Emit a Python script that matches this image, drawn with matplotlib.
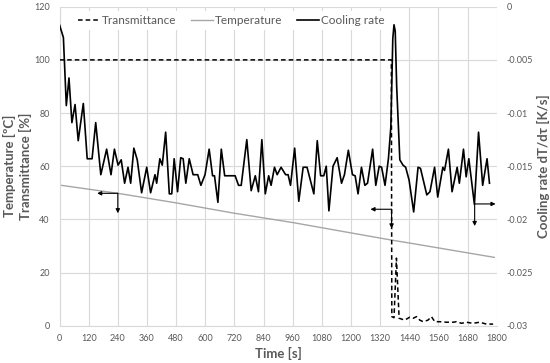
import matplotlib
matplotlib.use("Agg")
import matplotlib.pyplot as plt
from matplotlib.lines import Line2D

plt.rcParams['font.family'] = ['Lato', 'DejaVu Sans']
plt.rcParams['axes.unicode_minus'] = False

# Time axis ticks
time_ticks = list(range(0, 1801, 120))

# Transmittance [%]
trans_t = [0, 1366, 1368, 1377, 1387, 1398, 1421, 1442, 1456, 1470, 1483, 1497, 1517,
           1531, 1545, 1565, 1593, 1620, 1634, 1655, 1675, 1702, 1730, 1757, 1785]
trans_v = [100, 100, 3.4, 3.0, 25.4, 2.8, 2.1, 3.2, 2.8, 3.4, 2.1, 1.5, 2.1,
           3.4, 1.5, 1.5, 1.3, 1.3, 1.5, 0.9, 1.3, 0.9, 1.3, 0.6, 0.6]

# Temperature [ºC]
temp_t = [0, 240, 480, 720, 960, 1200, 1367, 1440, 1680, 1790]
temp_v = [52.9, 49.8, 46.2, 42.3, 38.8, 34.9, 32.2, 31.1, 27.4, 25.7]

# Cooling rate dT/dτ [K/s]
cool_t = [0, 16, 28, 39, 51, 64, 77, 98, 114, 134, 149, 170, 194, 212, 226, 241,
          254, 268, 282, 293, 306, 320, 338, 359, 375, 393, 400, 413, 423, 437,
          452, 462, 472, 486, 499, 509, 520, 534, 550, 569, 582, 599, 616, 630,
          638, 652, 666, 680, 723, 737, 748, 771, 789, 806, 819, 833, 847, 861,
          871, 885, 896, 912, 931, 941, 951, 968, 985, 1003, 1019, 1047, 1061,
          1075, 1088, 1098, 1109, 1126, 1143, 1161, 1173, 1189, 1206, 1217, 1229,
          1243, 1257, 1268, 1289, 1302, 1316, 1326, 1340, 1354, 1364, 1372, 1377,
          1382, 1388, 1401, 1414, 1425, 1439, 1458, 1476, 1486, 1512, 1525, 1544,
          1557, 1578, 1585, 1601, 1616, 1637, 1646, 1663, 1674, 1685, 1708, 1725,
          1742, 1760, 1770]
cool_v = [-0.0017, -0.0029, -0.0093, -0.0067, -0.0109, -0.0092, -0.0126, -0.0091,
          -0.0143, -0.0143, -0.0109, -0.0158, -0.0134, -0.0158, -0.0134, -0.0149,
          -0.0144, -0.0166, -0.0151, -0.0166, -0.0133, -0.0144, -0.0175, -0.0151,
          -0.0175, -0.0158, -0.0166, -0.0143, -0.0149, -0.0118, -0.0176, -0.0176,
          -0.0143, -0.0174, -0.0142, -0.0143, -0.0166, -0.0143, -0.0158, -0.0158,
          -0.0168, -0.0158, -0.0134, -0.0159, -0.0159, -0.0184, -0.0134, -0.0159,
          -0.0159, -0.0168, -0.0168, -0.0125, -0.0173, -0.0159, -0.0174, -0.0125,
          -0.0176, -0.0159, -0.0168, -0.0151, -0.0158, -0.0151, -0.0158, -0.0158,
          -0.0168, -0.0133, -0.0183, -0.0151, -0.0151, -0.0176, -0.0126, -0.0159,
          -0.0159, -0.0150, -0.0192, -0.0150, -0.0142, -0.0166, -0.0158, -0.0135,
          -0.0158, -0.0159, -0.0176, -0.0151, -0.0168, -0.0166, -0.0134, -0.0168,
          -0.0150, -0.0151, -0.0168, -0.0143, -0.0113, -0.0030, -0.0017, -0.0023,
          -0.0075, -0.0144, -0.0149, -0.0151, -0.0163, -0.0193, -0.0151, -0.0152,
          -0.0177, -0.0174, -0.0151, -0.0179, -0.0151, -0.0154, -0.0134, -0.0174,
          -0.0151, -0.0166, -0.0134, -0.0160, -0.0143, -0.0186, -0.0118, -0.0168,
          -0.0143, -0.0166]

left_ticks = [0, 20, 40, 60, 80, 100, 120]
right_ticks = [-0.03, -0.025, -0.02, -0.015, -0.01, -0.005, 0]
right_labels = ['-0.03', '-0.025', '-0.02', '-0.015', '-0.01', '-0.005', '0']

grid_c = '#d9d9d9'
text_c = '#595959'

fig = plt.figure(figsize=(5.5, 3.63), dpi=100)
ax = fig.add_axes([0.1082, 0.1028, 0.795, 0.8787])
ax2 = ax.twinx()

ax.plot(temp_t, temp_v, color='#a6a6a6', lw=1.0, zorder=2)
ax.plot(trans_t, trans_v, color='black', lw=1.1, dashes=(3, 2), zorder=3)
ax2.plot(cool_t, cool_v, color='black', lw=1.2, zorder=3, solid_joinstyle='round')

ax.set_xlim(0, 1800)
ax.set_ylim(0, 120)
ax2.set_ylim(-0.03, 0)
ax.set_xticks(time_ticks)
ax.set_yticks(left_ticks)
ax2.set_yticks(right_ticks)
ax2.set_yticklabels(right_labels)

ax.grid(True, color=grid_c, lw=0.8)
ax.set_axisbelow(True)
for a in (ax, ax2):
    a.tick_params(length=0, labelsize=6.5, labelcolor=text_c)
    for s in a.spines.values():
        s.set_visible(False)
ax.spines['left'].set_visible(True)
ax.spines['bottom'].set_visible(True)
ax.spines['left'].set_color(grid_c)
ax.spines['bottom'].set_color(grid_c)
ax.tick_params(axis='y', pad=7)
ax.tick_params(axis='x', pad=6)
ax2.tick_params(axis='y', pad=7)

ax.set_xlabel('Time [s]', fontsize=9.5, fontweight='bold', color=text_c, labelpad=3)
ax.set_ylabel('Temperature [ºC]\nTransmittance [%]', fontsize=9.5,
              fontweight='bold', color=text_c, linespacing=1.3)
ax.yaxis.set_label_coords(-0.063, 0.5)
ax2.set_ylabel('Cooling rate dT/dτ [K/s]', fontsize=9.5, fontweight='bold',
               color=text_c, rotation=90)
ax2.yaxis.set_label_coords(1.091, 0.5)

# arrows pointing to the axis each curve belongs to
arrow_kw = dict(arrowstyle='-|>', color='black', lw=0.8, mutation_scale=6,
                shrinkA=0, shrinkB=0)
arrows = [((240, 49.8), (155, 49.8), (240, 42.3)),
          ((1367, 43.8), (1280, 43.8), (1367, 36.6)),
          ((1709, 45.8), (1795, 45.8), (1709, 37.5))]
for start, side, down in arrows:
    ax.annotate('', xy=side, xytext=start, arrowprops=arrow_kw, zorder=5)
    ax.annotate('', xy=down, xytext=start, arrowprops=arrow_kw, zorder=5)

handles = [Line2D([], [], color='black', lw=1.1, dashes=(3, 2)),
           Line2D([], [], color='#a6a6a6', lw=1.0),
           Line2D([], [], color='black', lw=1.2)]
leg = ax2.legend(handles, ['Transmittance', 'Temperature', 'Cooling rate'],
                 ncol=3, loc='upper left', bbox_to_anchor=(0.03, 0.99),
                 frameon=True, framealpha=1, edgecolor='none', fancybox=False,
                 borderaxespad=0.1, borderpad=0.35, fontsize=8.5, handlelength=1.9,
                 handletextpad=0.15, columnspacing=1.2, labelcolor=text_c)
leg.get_frame().set_linewidth(0)

fig.savefig('out.png', dpi=100)
